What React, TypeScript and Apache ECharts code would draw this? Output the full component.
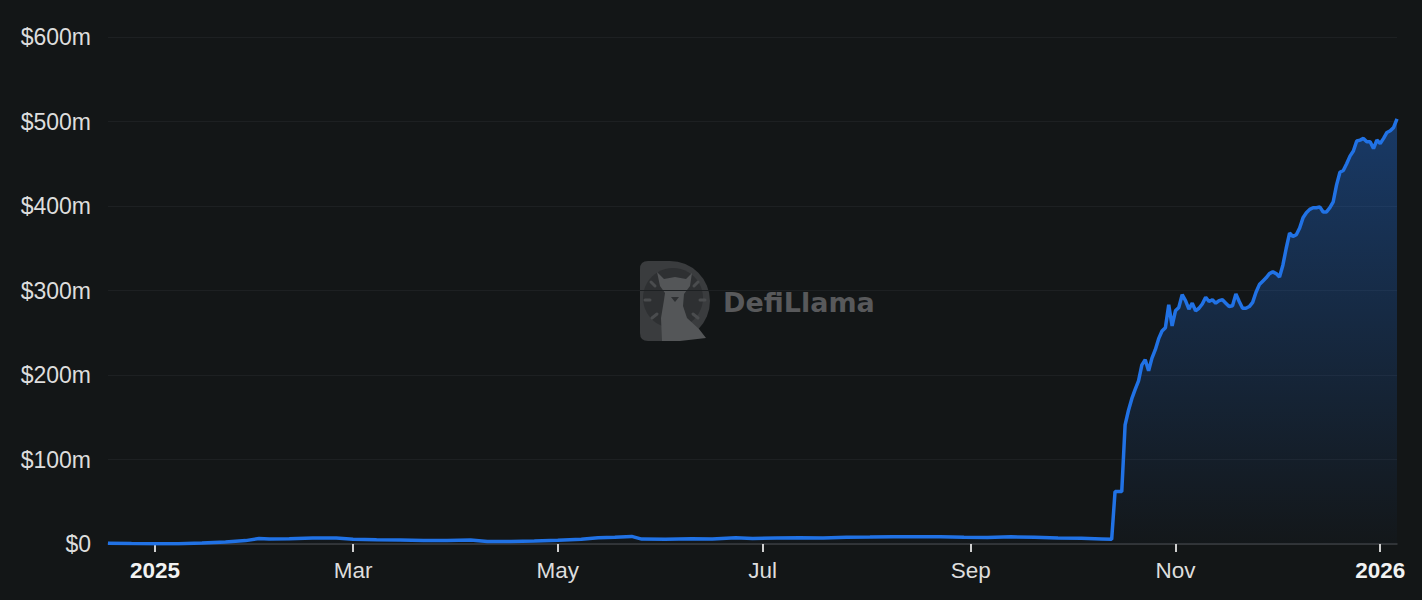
import React, { useEffect, useRef } from "react";
import * as echarts from "echarts";

const BG = "#131617";
const LINE = "#2172E5";

const dates: string[] = [
  "2024-12-18", "2024-12-25", "2025-01-01", "2025-01-08", "2025-01-15", "2025-01-22", "2025-01-28",
  "2025-02-01", "2025-02-04", "2025-02-10", "2025-02-17", "2025-02-24", "2025-03-01", "2025-03-08",
  "2025-03-15", "2025-03-22", "2025-03-29", "2025-04-05", "2025-04-10", "2025-04-17", "2025-04-24",
  "2025-05-01", "2025-05-08", "2025-05-13", "2025-05-18", "2025-05-23", "2025-05-26", "2025-06-02",
  "2025-06-10", "2025-06-16", "2025-06-23", "2025-06-28", "2025-07-05", "2025-07-12", "2025-07-19",
  "2025-07-26", "2025-08-02", "2025-08-09", "2025-08-16", "2025-08-23", "2025-08-30", "2025-09-06",
  "2025-09-13", "2025-09-20", "2025-09-27", "2025-10-04", "2025-10-10", "2025-10-13",
  "2025-10-14", "2025-10-15", "2025-10-16", "2025-10-17", "2025-10-18", "2025-10-19", "2025-10-20",
  "2025-10-21", "2025-10-22", "2025-10-23", "2025-10-24", "2025-10-25", "2025-10-26", "2025-10-27",
  "2025-10-28", "2025-10-29", "2025-10-30", "2025-10-31", "2025-11-01", "2025-11-02", "2025-11-03",
  "2025-11-04", "2025-11-05", "2025-11-06", "2025-11-07", "2025-11-08", "2025-11-09", "2025-11-10",
  "2025-11-11", "2025-11-12", "2025-11-13", "2025-11-14", "2025-11-15", "2025-11-16", "2025-11-17",
  "2025-11-18", "2025-11-19", "2025-11-20", "2025-11-21", "2025-11-22", "2025-11-23", "2025-11-24",
  "2025-11-25", "2025-11-26", "2025-11-27", "2025-11-28", "2025-11-29", "2025-11-30", "2025-12-01",
  "2025-12-02", "2025-12-03", "2025-12-04", "2025-12-05", "2025-12-06", "2025-12-07", "2025-12-08",
  "2025-12-09", "2025-12-10", "2025-12-11", "2025-12-12", "2025-12-13", "2025-12-14", "2025-12-15",
  "2025-12-16", "2025-12-17", "2025-12-18", "2025-12-19", "2025-12-20", "2025-12-21", "2025-12-22",
  "2025-12-23", "2025-12-24", "2025-12-25", "2025-12-26", "2025-12-27", "2025-12-28", "2025-12-29",
  "2025-12-30", "2025-12-31", "2026-01-01", "2026-01-02", "2026-01-03", "2026-01-04", "2026-01-05",
  "2026-01-06",
];

// TVL in millions of USD
const tvlMillions: number[] = [
  0.8, 0.5, 0.3, 0.4, 1.2, 2.5, 4,
  6.5, 5.8, 6.3, 7, 7, 5.5, 5,
  4.6, 4, 4.2, 4.8, 3, 3, 3.6,
  4.5, 5.5, 7.5, 8, 9, 5.8, 5.6,
  6.3, 6, 7.5, 6.5, 7, 7.5, 7,
  8, 8.2, 8.5, 8.6, 8.6, 8, 7.8,
  8.5, 8, 7.2, 6.8, 6, 5.5,
  62, 62, 62, 141, 158, 172, 183,
  193, 212, 218, 205, 220, 230, 243,
  252, 256, 283, 258, 276, 280, 295,
  288, 278, 285, 276, 279, 284, 292,
  287, 289, 285, 288, 289, 285, 281,
  282, 296, 287, 279, 279, 281, 286,
  298, 307, 311, 315, 320, 322, 320,
  316, 330, 350, 368, 364, 366, 374,
  386, 392, 396, 398, 398, 399, 393,
  393, 398, 405, 425, 440, 442, 450,
  459, 465, 477, 478, 480, 476, 476,
  468, 478, 474, 480, 487, 489, 493,
  503,
];

const xMin = "2024-12-18";
const xMax = "2026-01-06";
const monthNames: string[] = ["Jan", "Feb", "Mar", "Apr", "May", "Jun", "Jul", "Aug", "Sep", "Oct", "Nov", "Dec"];

const FONT = "'Liberation Sans', Arial, Helvetica, sans-serif";

let shapeRegistered = false;
function registerLogo() {
  if (shapeRegistered) return;
  shapeRegistered = true;
  echarts.graphic.registerShape(
    "llamaD",
    echarts.graphic.extendPath("M8 0 L30 0 A40 40 0 0 1 30 80 L8 80 Q0 80 0 72 L0 8 Q0 0 8 0 Z", {})
  );
}

export default function App() {
  const ref = useRef<HTMLDivElement>(null);

  useEffect(() => {
    document.body.style.margin = "0";
    document.body.style.background = BG;
    if (!ref.current) return;
    registerLogo();
    const chart = echarts.init(ref.current, undefined, { renderer: "svg" });

    const data = dates.map((d, i) => [d, tvlMillions[i]]);

    const rayColor = "#4a4c4e";
    const option: any = {
      animation: false,
      backgroundColor: BG,
      grid: { left: 108, right: 25, top: 37, bottom: 56 },
      xAxis: {
        type: "time",
        min: xMin,
        max: xMax,
        splitNumber: 5,
        axisLine: { show: true, lineStyle: { color: "#3a3d40", width: 1.5 } },
        axisTick: {
          show: true,
          length: 8,
          lineStyle: { color: "#cfcfcf", width: 2 },
        },
        splitLine: { show: false },
        axisLabel: {
          margin: 15,
          showMinLabel: false,
          showMaxLabel: false,
          color: "#dddddd",
          fontSize: 22.5,
          fontFamily: FONT,
          formatter: (value: number) => {
            const d = new Date(value);
            if (d.getMonth() === 0 && d.getDate() === 1) return "{y|" + d.getFullYear() + "}";
            return "{m|" + monthNames[d.getMonth()] + "}";
          },
          rich: {
            y: { fontSize: 22.5, fontWeight: "bold", color: "#f2f2f2", fontFamily: FONT },
            m: { fontSize: 22.5, color: "#dddddd", fontFamily: FONT },
          },
        },
      },
      yAxis: {
        type: "value",
        min: 0,
        max: 600,
        interval: 100,
        axisLine: { show: false },
        axisTick: { show: false },
        splitLine: { lineStyle: { color: "#1d2022", width: 1 } },
        axisLabel: {
          margin: 17,
          color: "#dddddd",
          fontSize: 23,
          fontFamily: FONT,
          formatter: (v: number) => (v === 0 ? "$0" : "$" + v + "m"),
        },
      },
      series: [
        {
          type: "line",
          data,
          symbol: "none",
          showSymbol: false,
          z: 3,
          lineStyle: { color: LINE, width: 3.5 },
          itemStyle: { color: LINE },
          areaStyle: {
            color: new echarts.graphic.LinearGradient(0, 0, 0, 1, [
              { offset: 0, color: "rgba(33,114,229,0.55)" },
              { offset: 1, color: "rgba(33,114,229,0.02)" },
            ]),
          },
        },
      ],
      graphic: [
        {
          type: "group",
          silent: true,
          z: 0,
          children: [
            { type: "llamaD", x: 640, y: 261, style: { fill: "#3a3c3e" } },
            { type: "circle", shape: { cx: 673, cy: 298, r: 30 }, style: { fill: "#2e3032" } },
            {
              type: "polygon",
              shape: {
                points: [
                  [657, 272], [664, 279], [675, 277], [686, 279], [692, 273], [690, 286],
                  [684, 294], [683, 306], [687, 318], [699, 329], [706, 338], [680, 341],
                  [662, 341], [661, 318], [664, 300], [665, 293], [660, 286],
                ],
              },
              style: { fill: "#545658" },
            },
            { type: "polygon", shape: { points: [[671, 297], [679, 297], [675, 302]] }, style: { fill: "#2e3032" } },
            { type: "line", shape: { x1: 645, y1: 300, x2: 650, y2: 300 }, style: { stroke: rayColor, lineWidth: 3, lineCap: "round" } },
            { type: "line", shape: { x1: 651, y1: 282, x2: 655, y2: 286 }, style: { stroke: rayColor, lineWidth: 3, lineCap: "round" } },
            { type: "line", shape: { x1: 694, y1: 286, x2: 698, y2: 282 }, style: { stroke: rayColor, lineWidth: 3, lineCap: "round" } },
            { type: "line", shape: { x1: 700, y1: 300, x2: 705, y2: 300 }, style: { stroke: rayColor, lineWidth: 3, lineCap: "round" } },
            { type: "line", shape: { x1: 652, y1: 318, x2: 657, y2: 314 }, style: { stroke: rayColor, lineWidth: 3, lineCap: "round" } },
            { type: "line", shape: { x1: 693, y1: 314, x2: 698, y2: 318 }, style: { stroke: rayColor, lineWidth: 3, lineCap: "round" } },
            {
              type: "text",
              x: 723,
              y: 302,
              style: {
                text: "DefiLlama",
                fill: "#58595b",
                font: "bold 27px 'DejaVu Sans', sans-serif",
                verticalAlign: "middle",
              },
            },
          ],
        },
      ],
    };

    chart.setOption(option);
    return () => chart.dispose();
  }, []);

  return <div ref={ref} style={{ width: 1422, height: 600 }} />;
}
